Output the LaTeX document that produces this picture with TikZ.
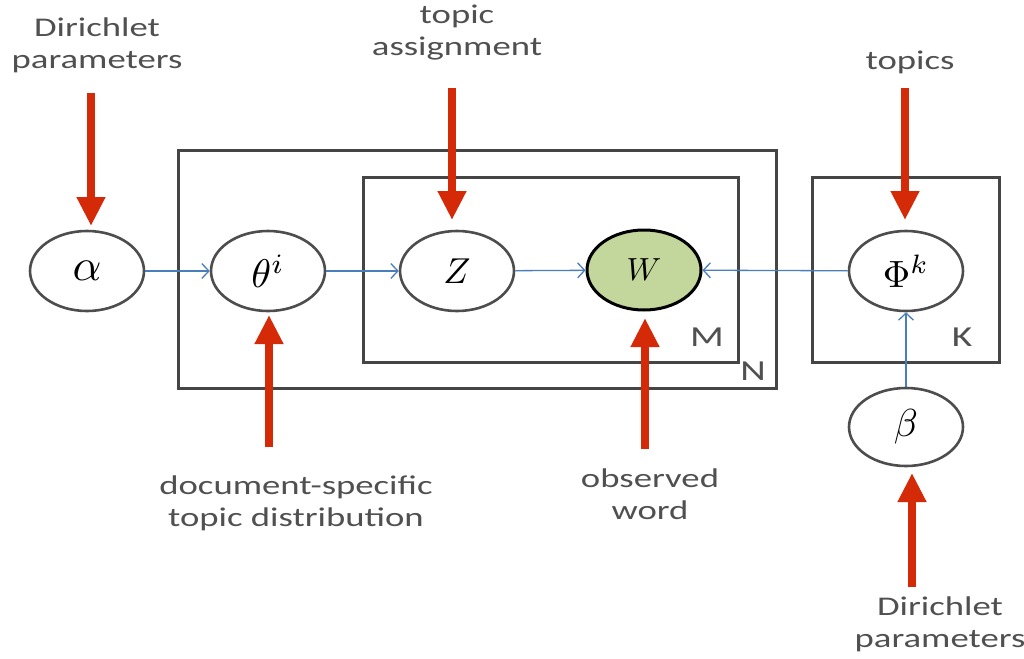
\documentclass[tikz,border=0pt]{standalone}
\usepackage{graphicx}
\usepackage{amsmath}
\usepackage{fontspec}
\setmainfont{Carlito}[FakeStretch=1.36]
\usetikzlibrary{arrows.meta,shapes.geometric}
\definecolor{txtgray}{HTML}{505050}
\definecolor{redarr}{HTML}{D52A08}
\definecolor{bluearr}{HTML}{4A7EBB}
\definecolor{ovalgray}{HTML}{4D4D4D}
\definecolor{boxgray}{HTML}{454545}
\definecolor{obsgreen}{HTML}{C3D69B}
\newcommand{\msym}[2]{\scalebox{#1}{$#2$}}
\tikzset{
  rv/.style={ellipse, draw=ovalgray, line width=2.6pt, fill=white, minimum width=114pt, minimum height=80pt, inner sep=0pt},
  obs/.style={rv, draw=black, line width=3pt, fill=obsgreen},
  plate/.style={draw=boxgray, line width=3pt},
  platelab/.style={font=\fontsize{29}{30}\selectfont, text=txtgray},
  lab/.style={align=center, text=txtgray, font=\fontsize{27}{32}\selectfont},
  redarrow/.style={draw=redarr, line width=7.5pt, -{Triangle[width=27pt,length=29pt]}},
  bluearrow/.style={draw=bluearr, line width=1.3pt, -{Straight Barb[length=7pt,width=15pt,line width=1.3pt]}}
}
\begin{document}
\begin{tikzpicture}[x=1pt,y=-1pt]
\useasboundingbox[fill=white] (0,0) rectangle (1024,658);
% plates
\draw[plate] (178,150) rectangle (776,388);
\draw[plate] (363,177) rectangle (738,362);
\draw[plate] (812,177) rectangle (999,362);
\node[platelab] (labM) at (707,337) {M};
\node[platelab] (labN) at (753,371) {N};
\node[platelab] (labK) at (962,337) {K};
% variables
\node[rv] (alpha) at (87,271) {\msym{4.5}{\alpha}};
\node[rv] (theta) at (268,271) {\msym{4.0}{\theta^{i}}};
\node[rv] (z) at (457,271) {\msym{3.6}{Z}};
\node[obs] (w) at (644,270) {\msym{3.2}{W}};
\node[rv] (phi) at (906,271) {\msym{3.8}{\Phi^{k}}};
\node[rv, minimum height=78pt] (beta) at (906,427) {\msym{3.9}{\beta}};
% blue edges
\draw[bluearrow] (alpha) -- (theta);
\draw[bluearrow] (theta) -- (z);
\draw[bluearrow] (z) -- (w);
\draw[bluearrow] (phi) -- (w);
\draw[bluearrow] (beta) -- (phi);
% labels
\node[lab] (tDir1) at (97,45) {Dirichlet\\parameters};
\node[lab] (tTopAs) at (457,33) {topic\\assignment};
\node[lab] (tTopics) at (910,62) {topics};
\node[lab] (tDoc) at (296,503) {document-specific\\topic distribution};
\node[lab] (tObs) at (650,494) {observed\\word};
\node[lab] (tDir2) at (940,624) {Dirichlet\\parameters};
% red arrows
\coordinate (sA) at (91,93);
\coordinate (eA) at (91,226);
\coordinate (sT) at (269,447);
\coordinate (eT) at (269,315);
\coordinate (sZ) at (452,88);
\coordinate (eZ) at (452,220);
\coordinate (sW) at (645,449);
\coordinate (eW) at (645,318);
\coordinate (sP) at (905,88);
\coordinate (eP) at (905,220);
\coordinate (sB) at (912,587);
\coordinate (eB) at (912,473);
\draw[redarrow] (sA) -- (eA);
\draw[redarrow] (sT) -- (eT);
\draw[redarrow] (sZ) -- (eZ);
\draw[redarrow] (sW) -- (eW);
\draw[redarrow] (sP) -- (eP);
\draw[redarrow] (sB) -- (eB);
\end{tikzpicture}
\end{document}
